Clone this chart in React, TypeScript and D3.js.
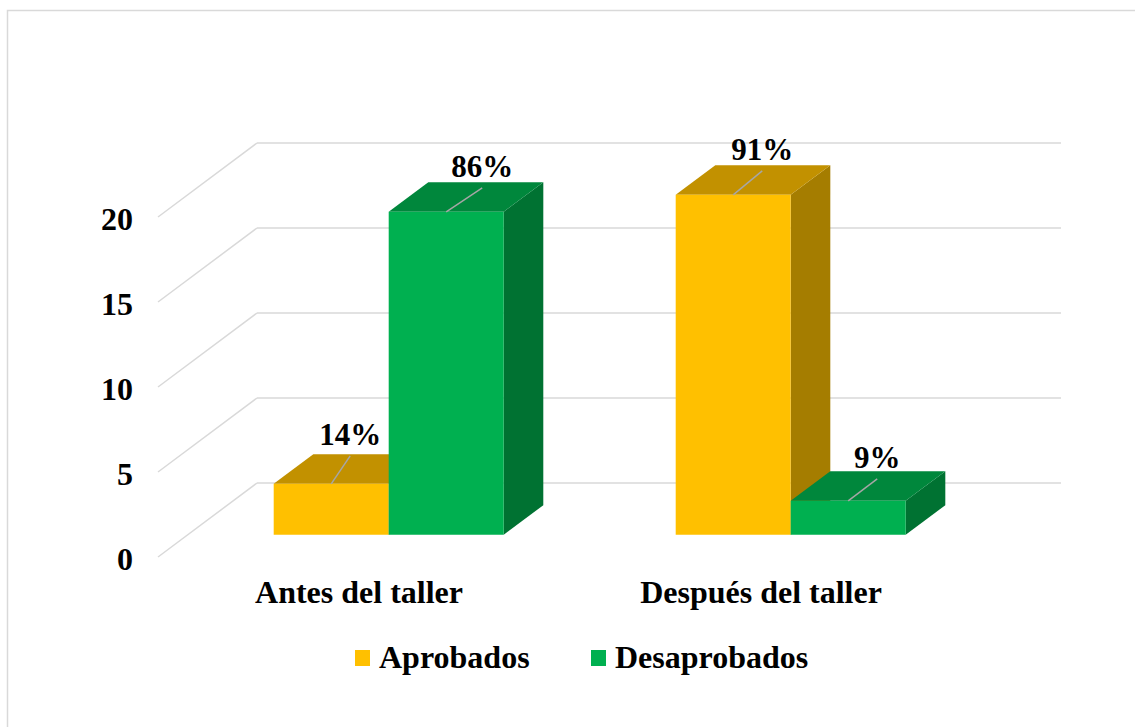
import React from "react";
import * as d3 from "d3";

const categories = ["Antes del taller", "Después del taller"];
const seriesNames = ["Aprobados", "Desaprobados"];
const aprobados = [3, 20];
const desaprobados = [19, 2];
const percentLabels = [
  ["14%", "86%"],
  ["91%", "9%"],
];
const yTicks = [0, 5, 10, 15, 20];

// style
const colors = [
  { front: "#FFC000", top: "#C29100", side: "#A57D00" },
  { front: "#00B050", top: "#00873C", side: "#007232" },
];
// label offsets (dx from bar center, dy from bar top) per [category][series]
const labelOffsets = [
  [[19, -39], [36, -35]],
  [[29, -35], [29, -33]],
];

const W = 1135;
const H = 727;
const FONT = "'Liberation Serif', 'Times New Roman', serif";

export default function App() {
  const backX0 = 257;
  const backX1 = 1061;
  const depthDX = -99;
  const depthDY = 74;
  const dFront = 0.7;
  const dBack = 0.3;
  const barW = 115;
  const barDepth = dFront - dBack;

  const yBack = d3.scaleLinear().domain([0, 20]).range([483, 143]);
  const xBand = d3.scaleBand<string>().domain(categories).range([backX0, backX1]).padding(0);
  const xSeries = d3
    .scaleBand<string>()
    .domain(seriesNames)
    .range([-barW, barW])
    .padding(0);

  const proj = (xb: number, v: number, d: number): [number, number] => [
    xb + depthDX * d,
    yBack(v) + depthDY * d,
  ];
  const pts = (arr: [number, number][]) => arr.map((p) => p.join(",")).join(" ");

  const values = [aprobados, desaprobados];

  const bars: React.ReactNode[] = [];
  const labels: React.ReactNode[] = [];
  categories.forEach((cat, ci) => {
    const center = (xBand(cat) as number) + xBand.bandwidth() / 2;
    seriesNames.forEach((s, si) => {
      const v = values[si][ci];
      const xl = center + (xSeries(s) as number);
      const xr = xl + xSeries.bandwidth();
      const c = colors[si];
      const fBL = proj(xl, 0, dFront);
      const fBR = proj(xr, 0, dFront);
      const fTL = proj(xl, v, dFront);
      const fTR = proj(xr, v, dFront);
      const bTL = proj(xl, v, dBack);
      const bTR = proj(xr, v, dBack);
      const bBR = proj(xr, 0, dBack);
      bars.push(
        <g key={`${ci}-${si}`}>
          <polygon points={pts([fTR, bTR, bBR, fBR])} fill={c.side} />
          <polygon points={pts([fTL, fTR, bTR, bTL])} fill={c.top} />
          <polygon points={pts([fBL, fBR, fTR, fTL])} fill={c.front} />
        </g>
      );
      const cx = (fTL[0] + fTR[0]) / 2;
      const [odx, ody] = labelOffsets[ci][si];
      const lx = cx + odx;
      const ly = fTL[1] + ody;
      labels.push(
        <g key={`l-${ci}-${si}`}>
          <line x1={cx} y1={fTL[1]} x2={lx} y2={ly + 11} stroke="#A6A6A6" strokeWidth={1.5} />
          <text
            x={lx}
            y={ly}
            textAnchor="middle"
            fontFamily={FONT}
            fontWeight="bold"
            fontSize={31}
            fill="#000"
          >
            {percentLabels[ci][si]}
          </text>
        </g>
      );
    });
  });
  void barDepth;

  return (
    <svg
      width={W}
      height={H}
      style={{ position: "absolute", left: 0, top: 0, background: "#fff" }}
    >
      <rect x={7.5} y={10.5} width={W} height={H} fill="#fff" stroke="#D9D9D9" strokeWidth={1.5} />
      {/* grid */}
      {yTicks.map((t) => {
        const yb = yBack(t);
        return (
          <g key={`g-${t}`}>
            <line x1={backX0} y1={yb} x2={backX1} y2={yb} stroke="#D9D9D9" strokeWidth={1.5} />
            <line
              x1={backX0}
              y1={yb}
              x2={backX0 + depthDX}
              y2={yb + depthDY}
              stroke="#D9D9D9"
              strokeWidth={1.5}
            />
          </g>
        );
      })}
      {/* y labels */}
      {yTicks.map((t) => (
        <text
          key={`y-${t}`}
          x={133}
          y={yBack(t) + depthDY + 2}
          textAnchor="end"
          dominantBaseline="central"
          fontFamily={FONT}
          fontWeight="bold"
          fontSize={32}
          fill="#000"
        >
          {t}
        </text>
      ))}
      {bars}
      {labels}
      {/* category labels */}
      {categories.map((cat) => (
        <text
          key={`c-${cat}`}
          x={(xBand(cat) as number) + xBand.bandwidth() / 2 + depthDX}
          y={603}
          textAnchor="middle"
          fontFamily={FONT}
          fontWeight="bold"
          fontSize={32}
          fill="#000"
        >
          {cat}
        </text>
      ))}
      {/* legend */}
      {seriesNames.map((s, si) => {
        const x0 = si === 0 ? 355 : 591;
        return (
          <g key={`lg-${s}`}>
            <rect x={x0} y={650} width={15} height={16} fill={colors[si].front} />
            <text
              x={x0 + 24}
              y={668}
              fontFamily={FONT}
              fontWeight="bold"
              fontSize={32}
              fill="#000"
            >
              {s}
            </text>
          </g>
        );
      })}
    </svg>
  );
}
